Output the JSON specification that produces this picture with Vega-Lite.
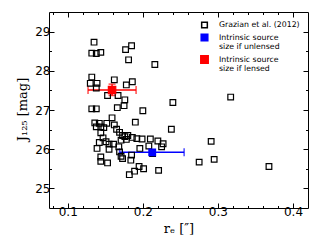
{
  "$schema": "https://vega.github.io/schema/vega-lite/v6.json",
  "width": 259,
  "height": 196,
  "autosize": {"type": "none"},
  "padding": {"left": 49, "top": 12, "right": 17, "bottom": 37},
  "background": "white",
  "config": {
    "view": {"stroke": "black", "strokeWidth": 1},
    "axis": {"domain": false, "grid": false, "tickColor": "black", "tickWidth": 1, "labelColor": "black", "labelFont": "DejaVu Sans", "labelFontSize": 12, "titleFont": "DejaVu Serif", "titleFontSize": 13, "titleFontWeight": "normal", "titleColor": "black"},
    "legend": {"labelFont": "DejaVu Sans", "labelFontSize": 7.8, "labelColor": "black", "labelLimit": 200}
  },
  "datasets": {
    "err": [
      {"s": "Intrinsic source|size if unlensed", "r": 0.2125, "rlo": 0.169, "rhi": 0.255, "j": 25.92, "jlo": 25.86, "jhi": 25.98},
      {"s": "Intrinsic source|size if lensed", "r": 0.159, "rlo": 0.127, "rhi": 0.191, "j": 27.51, "jlo": 27.37, "jhi": 27.66}
    ],
    "pts": [
      {"s": "Grazian et al. (2012)", "r": 0.135, "j": 28.73},
      {"s": "Grazian et al. (2012)", "r": 0.132, "j": 28.45},
      {"s": "Grazian et al. (2012)", "r": 0.138, "j": 28.44},
      {"s": "Grazian et al. (2012)", "r": 0.144, "j": 28.47},
      {"s": "Grazian et al. (2012)", "r": 0.177, "j": 28.54},
      {"s": "Grazian et al. (2012)", "r": 0.185, "j": 28.64},
      {"s": "Grazian et al. (2012)", "r": 0.181, "j": 28.28},
      {"s": "Grazian et al. (2012)", "r": 0.216, "j": 28.16},
      {"s": "Grazian et al. (2012)", "r": 0.132, "j": 27.84},
      {"s": "Grazian et al. (2012)", "r": 0.130, "j": 27.68},
      {"s": "Grazian et al. (2012)", "r": 0.139, "j": 27.68},
      {"s": "Grazian et al. (2012)", "r": 0.138, "j": 27.56},
      {"s": "Grazian et al. (2012)", "r": 0.162, "j": 27.77},
      {"s": "Grazian et al. (2012)", "r": 0.153, "j": 27.37},
      {"s": "Grazian et al. (2012)", "r": 0.167, "j": 27.37},
      {"s": "Grazian et al. (2012)", "r": 0.178, "j": 27.64},
      {"s": "Grazian et al. (2012)", "r": 0.186, "j": 27.72},
      {"s": "Grazian et al. (2012)", "r": 0.176, "j": 27.26},
      {"s": "Grazian et al. (2012)", "r": 0.175, "j": 27.11},
      {"s": "Grazian et al. (2012)", "r": 0.166, "j": 27.06},
      {"s": "Grazian et al. (2012)", "r": 0.132, "j": 27.03},
      {"s": "Grazian et al. (2012)", "r": 0.138, "j": 27.03},
      {"s": "Grazian et al. (2012)", "r": 0.200, "j": 26.98},
      {"s": "Grazian et al. (2012)", "r": 0.190, "j": 26.69},
      {"s": "Grazian et al. (2012)", "r": 0.159, "j": 26.80},
      {"s": "Grazian et al. (2012)", "r": 0.136, "j": 26.67},
      {"s": "Grazian et al. (2012)", "r": 0.142, "j": 26.66},
      {"s": "Grazian et al. (2012)", "r": 0.152, "j": 26.66},
      {"s": "Grazian et al. (2012)", "r": 0.138, "j": 26.57},
      {"s": "Grazian et al. (2012)", "r": 0.144, "j": 26.57},
      {"s": "Grazian et al. (2012)", "r": 0.148, "j": 26.55},
      {"s": "Grazian et al. (2012)", "r": 0.162, "j": 26.62},
      {"s": "Grazian et al. (2012)", "r": 0.165, "j": 26.51},
      {"s": "Grazian et al. (2012)", "r": 0.144, "j": 26.42},
      {"s": "Grazian et al. (2012)", "r": 0.169, "j": 26.43},
      {"s": "Grazian et al. (2012)", "r": 0.173, "j": 26.35},
      {"s": "Grazian et al. (2012)", "r": 0.147, "j": 26.29},
      {"s": "Grazian et al. (2012)", "r": 0.176, "j": 26.32},
      {"s": "Grazian et al. (2012)", "r": 0.180, "j": 26.35},
      {"s": "Grazian et al. (2012)", "r": 0.178, "j": 26.25},
      {"s": "Grazian et al. (2012)", "r": 0.186, "j": 26.30},
      {"s": "Grazian et al. (2012)", "r": 0.192, "j": 26.27},
      {"s": "Grazian et al. (2012)", "r": 0.199, "j": 26.26},
      {"s": "Grazian et al. (2012)", "r": 0.151, "j": 26.19},
      {"s": "Grazian et al. (2012)", "r": 0.142, "j": 26.17},
      {"s": "Grazian et al. (2012)", "r": 0.155, "j": 26.13},
      {"s": "Grazian et al. (2012)", "r": 0.161, "j": 26.13},
      {"s": "Grazian et al. (2012)", "r": 0.139, "j": 26.02},
      {"s": "Grazian et al. (2012)", "r": 0.155, "j": 26.00},
      {"s": "Grazian et al. (2012)", "r": 0.168, "j": 26.06},
      {"s": "Grazian et al. (2012)", "r": 0.171, "j": 26.23},
      {"s": "Grazian et al. (2012)", "r": 0.210, "j": 26.26},
      {"s": "Grazian et al. (2012)", "r": 0.220, "j": 26.21},
      {"s": "Grazian et al. (2012)", "r": 0.227, "j": 26.14},
      {"s": "Grazian et al. (2012)", "r": 0.225, "j": 26.06},
      {"s": "Grazian et al. (2012)", "r": 0.208, "j": 26.08},
      {"s": "Grazian et al. (2012)", "r": 0.196, "j": 26.02},
      {"s": "Grazian et al. (2012)", "r": 0.144, "j": 25.80},
      {"s": "Grazian et al. (2012)", "r": 0.144, "j": 25.69},
      {"s": "Grazian et al. (2012)", "r": 0.153, "j": 25.65},
      {"s": "Grazian et al. (2012)", "r": 0.173, "j": 25.76},
      {"s": "Grazian et al. (2012)", "r": 0.185, "j": 25.85},
      {"s": "Grazian et al. (2012)", "r": 0.184, "j": 25.72},
      {"s": "Grazian et al. (2012)", "r": 0.182, "j": 25.35},
      {"s": "Grazian et al. (2012)", "r": 0.189, "j": 25.44},
      {"s": "Grazian et al. (2012)", "r": 0.195, "j": 25.56},
      {"s": "Grazian et al. (2012)", "r": 0.201, "j": 25.50},
      {"s": "Grazian et al. (2012)", "r": 0.221, "j": 25.46},
      {"s": "Grazian et al. (2012)", "r": 0.213, "j": 25.89},
      {"s": "Grazian et al. (2012)", "r": 0.169, "j": 25.93},
      {"s": "Grazian et al. (2012)", "r": 0.171, "j": 25.82},
      {"s": "Grazian et al. (2012)", "r": 0.240, "j": 27.19},
      {"s": "Grazian et al. (2012)", "r": 0.238, "j": 26.51},
      {"s": "Grazian et al. (2012)", "r": 0.291, "j": 26.20},
      {"s": "Grazian et al. (2012)", "r": 0.275, "j": 25.67},
      {"s": "Grazian et al. (2012)", "r": 0.295, "j": 25.74},
      {"s": "Grazian et al. (2012)", "r": 0.368, "j": 25.56},
      {"s": "Grazian et al. (2012)", "r": 0.317, "j": 27.33},
      {"s": "Intrinsic source|size if unlensed", "r": 0.2125, "j": 25.92},
      {"s": "Intrinsic source|size if lensed", "r": 0.159, "j": 27.51}
    ]
  },
  "resolve": {"axis": {"x": "independent", "y": "independent"}},
  "layer": [
    {
      "data": {"name": "err"},
      "mark": {"type": "rule", "strokeWidth": 1.5},
      "encoding": {
        "x": {"field": "rlo", "type": "quantitative", "scale": {"domain": [0.075, 0.42], "nice": false, "zero": false}, "axis": null},
        "x2": {"field": "rhi"},
        "y": {"field": "j", "type": "quantitative", "scale": {"domain": [24.5, 29.5], "nice": false, "zero": false}, "axis": null},
        "color": {"field": "s", "type": "nominal", "scale": {"domain": ["Intrinsic source|size if unlensed", "Intrinsic source|size if lensed"], "range": ["#0000ff", "#ff0000"]}, "legend": null}
      }
    },
    {
      "data": {"name": "err"},
      "mark": {"type": "rule", "strokeWidth": 1.5},
      "encoding": {
        "x": {"field": "r", "type": "quantitative", "axis": null},
        "y": {"field": "jlo", "type": "quantitative", "axis": null},
        "y2": {"field": "jhi"},
        "color": {"field": "s", "type": "nominal", "legend": null}
      }
    },
    {
      "data": {"name": "err"},
      "mark": {"type": "tick", "orient": "vertical", "size": 8, "thickness": 1.5},
      "encoding": {
        "x": {"field": "rlo", "type": "quantitative", "axis": null},
        "y": {"field": "j", "type": "quantitative", "axis": null},
        "color": {"field": "s", "type": "nominal", "legend": null}
      }
    },
    {
      "data": {"name": "err"},
      "mark": {"type": "tick", "orient": "vertical", "size": 8, "thickness": 1.5},
      "encoding": {
        "x": {"field": "rhi", "type": "quantitative", "axis": null},
        "y": {"field": "j", "type": "quantitative", "axis": null},
        "color": {"field": "s", "type": "nominal", "legend": null}
      }
    },
    {
      "data": {"name": "err"},
      "mark": {"type": "tick", "orient": "horizontal", "size": 7, "thickness": 1.5},
      "encoding": {
        "x": {"field": "r", "type": "quantitative", "axis": null},
        "y": {"field": "jlo", "type": "quantitative", "axis": null},
        "color": {"field": "s", "type": "nominal", "legend": null}
      }
    },
    {
      "data": {"name": "err"},
      "mark": {"type": "tick", "orient": "horizontal", "size": 7, "thickness": 1.5},
      "encoding": {
        "x": {"field": "r", "type": "quantitative", "axis": null},
        "y": {"field": "jhi", "type": "quantitative", "axis": null},
        "color": {"field": "s", "type": "nominal", "legend": null}
      }
    },
    {
      "data": {"name": "pts"},
      "mark": {"type": "point", "shape": "square", "strokeWidth": 1.2, "opacity": 1},
      "encoding": {
        "x": {"field": "r", "type": "quantitative", "title": "rₑ  [″]",
          "axis": {"orient": "bottom", "values": [0.08, 0.1, 0.12, 0.14, 0.16, 0.18, 0.2, 0.22, 0.24, 0.26, 0.28, 0.3, 0.32, 0.34, 0.36, 0.38, 0.4],
            "tickSize": {"condition": {"test": "abs(datum.value*10 - round(datum.value*10)) < 0.001", "value": -5}, "value": -2.5},
            "labelExpr": "abs(datum.value*10 - round(datum.value*10)) < 0.001 ? format(datum.value, '.1f') : ''",
            "labelPadding": 3, "titleX": 129.5, "titleY": 14, "titleAnchor": "middle", "titleBaseline": "top"}},
        "y": {"field": "j", "type": "quantitative", "title": "J₁₂₅ [mag]",
          "axis": {"orient": "left", "values": [25, 25.5, 26, 26.5, 27, 27.5, 28, 28.5, 29],
            "tickSize": {"condition": {"test": "datum.value % 1 == 0", "value": -5}, "value": -2.5},
            "labelExpr": "datum.value % 1 == 0 ? format(datum.value, 'd') : ''",
            "labelPadding": 4, "titleX": -27, "titleY": 97, "titleAnchor": "middle", "titleBaseline": "middle"}},
        "stroke": {"field": "s", "type": "nominal", "title": null,
          "scale": {"domain": ["Grazian et al. (2012)", "Intrinsic source|size if unlensed", "Intrinsic source|size if lensed"], "range": ["black", "#0000ff", "#ff0000"]},
          "legend": {"orient": "none", "legendX": 151, "legendY": 9, "labelExpr": "split(datum.label, '|')", "symbolType": "square", "rowPadding": 0, "labelOffset": 10, "padding": 0, "title": null,
            "encode": {"labels": {"update": {"dy": {"signal": "indexof(datum.label, '|') >= 0 ? -5 : 0"}}}}}},
        "fill": {"field": "s", "type": "nominal", "title": null,
          "scale": {"domain": ["Grazian et al. (2012)", "Intrinsic source|size if unlensed", "Intrinsic source|size if lensed"], "range": ["transparent", "#0000ff", "#ff0000"]}},
        "size": {"field": "s", "type": "nominal", "title": null,
          "scale": {"domain": ["Grazian et al. (2012)", "Intrinsic source|size if unlensed", "Intrinsic source|size if lensed"], "range": [32, 55, 55]}}
      }
    },
    {
      "data": {"name": "err"},
      "mark": {"type": "point", "opacity": 0},
      "encoding": {
        "x": {"field": "r", "type": "quantitative",
          "axis": {"orient": "top", "title": null, "labels": false, "values": [0.08, 0.1, 0.12, 0.14, 0.16, 0.18, 0.2, 0.22, 0.24, 0.26, 0.28, 0.3, 0.32, 0.34, 0.36, 0.38, 0.4],
            "tickSize": {"condition": {"test": "abs(datum.value*10 - round(datum.value*10)) < 0.001", "value": -5}, "value": -2.5}}},
        "y": {"field": "j", "type": "quantitative",
          "axis": {"orient": "right", "title": null, "labels": false, "values": [25, 25.5, 26, 26.5, 27, 27.5, 28, 28.5, 29],
            "tickSize": {"condition": {"test": "datum.value % 1 == 0", "value": -5}, "value": -2.5}}}
      }
    }
  ]
}
